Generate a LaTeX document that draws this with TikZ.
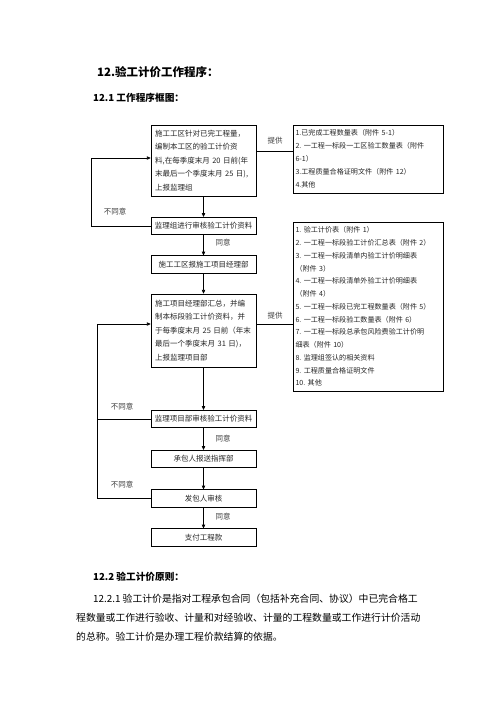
\documentclass[tikz,border=0pt]{standalone}
\usepackage{fontspec}
\setmainfont{Noto Sans CJK SC}
\usetikzlibrary{arrows.meta}

\newcommand{\boxfont}{\fontsize{9}{15.4}\selectfont}
\newcommand{\tagfont}{\fontsize{9}{11}\selectfont}

\tikzset{
  flowbox/.style={draw, line width=0.8pt, minimum width=126pt, minimum height=21pt, inner sep=0pt, font=\boxfont, text=black!85},
  textbox/.style={flowbox, align=left, text width=116pt, inner xsep=5pt, font=\fontsize{9}{16.2}\selectfont},
  listbox/.style={draw, line width=0.8pt, align=left, text width=174pt, inner xsep=3pt, inner ysep=0pt, text=black!85},
  flowarrow/.style={line width=0.8pt, -{Triangle[length=4.5pt,width=4pt]}},
  flowline/.style={line width=0.8pt},
  tag/.style={font=\tagfont, text=black!75, inner sep=0pt},
  heading/.style={anchor=base west, inner sep=0pt, font=\bfseries},
  para/.style={anchor=base west, inner sep=0pt, font=\fontsize{11.8}{22}\selectfont}
}

\begin{document}
\begin{tikzpicture}[x=1.2pt,y=-1.2pt]
  \useasboundingbox (0,0) rectangle (496,702);
  \fill[white] (0,0) rectangle (496,702);

  % Headings
  \node[heading, font=\bfseries\fontsize{13.8}{16}\selectfont] (h1) at (97,76.4) {12.验工计价工作程序：};
  \node[heading, font=\bfseries\fontsize{11.6}{14}\selectfont] (h2) at (93,101.7) {12.1 工作程序框图：};

  % Main column
  \node[textbox, minimum height=85pt] (b1) at (203.5,160.5) {施工工区针对已完工程量，\\编制本工区的验工计价资\\料,在每季度末月 20 日前(年\\末最后一个季度末月 25 日),\\上报监理组};
  \node[flowbox] (b2) at (203.5,226) {监理组进行审核验工计价资料};
  \node[flowbox] (b3) at (203.5,264.5) {施工工区报施工项目经理部};
  \node[textbox, minimum height=87.6pt] (b4) at (203.5,330.5) {施工项目经理部汇总，并编\\制本标段验工计价资料，并\\于每季度末月 25 日前（年末\\最后一个季度末月 31 日)，\\上报监理项目部};
  \node[flowbox] (b5) at (203.5,419) {监理项目部审核验工计价资料};
  \node[flowbox] (b6) at (203.5,459) {承包人报送指挥部};
  \node[flowbox] (b7) at (203.5,498.5) {发包人审核};
  \node[flowbox] (b8) at (203.5,537.5) {支付工程款};

  % Lists of documents
  \node[listbox, minimum height=81.6pt, font=\fontsize{8.5}{15.6}\selectfont] (r1) at (368,159) {1.已完成工程数量表（附件~5-1）\\2.~一工程一标段一工区验工数量表（附件\\6-1）\\3.工程质量合格证明文件（附件~12）\\4.其他};
  \node[listbox, minimum height=202.8pt, font=\fontsize{8.5}{15.3}\selectfont] (r2) at (368,306.5) {1.~验工计价表（附件~1）\\2.~一工程一标段验工计价汇总表（附件~2）\\3.~一工程一标段清单内验工计价明细表\\（附件~3）\\4.~一工程一标段清单外验工计价明细表\\（附件~4）\\5.~一工程一标段已完工程数量表（附件~5）\\6.~一工程一标段验工数量表（附件~6）\\7.~一工程一标段总承包风险费验工计价明\\细表（附件~10）\\8.~监理组签认的相关资料\\9.~工程质量合格证明文件\\10.~其他};

  % Downward arrows
  \draw[flowarrow] (b1) -- (b2);
  \draw[flowarrow] (b2) -- (b3);
  \draw[flowarrow] (b3) -- (b4);
  \draw[flowarrow] (b4) -- (b5);
  \draw[flowarrow] (b5) -- (b6);
  \draw[flowarrow] (b6) -- (b7);
  \draw[flowarrow] (b7) -- (b8);
  \node[tag] (y1) at (223,243) {同意};
  \node[tag] (y2) at (223,439) {同意};
  \node[tag] (y3) at (223,517) {同意};

  % Links to the lists
  \coordinate (g1) at (275,151);
  \coordinate (g2) at (275,324);
  \draw[flowline] (b1.east |- g1) -- (r1.west |- g1);
  \draw[flowline] (b4.east |- g2) -- (r2.west |- g2);
  \node[tag] (t1) at (275,141) {提供};
  \node[tag] (t2) at (275,316) {提供};

  % Return loops
  \coordinate (k1) at (91,158);
  \coordinate (k2) at (97,324);
  \draw[flowarrow] (b2.west) -| (k1) -- (b1.west |- k1);
  \draw[flowarrow] (b5.west) -| (k2) -- (b4.west |- k2);
  \draw[flowline] (b7.west) -| (k2);
  \node[tag] (n1) at (115,212) {不同意};
  \node[tag] (n2) at (122,407) {不同意};
  \node[tag] (n3) at (122,485) {不同意};

  % Principles
  \node[heading, font=\bfseries\fontsize{11.6}{14}\selectfont] (h3) at (93,580.7) {12.2 验工计价原则：};
  \node[para] (p1) at (93,602.7) {12.2.1 验工计价是指对工程承包合同（包括补充合同、协议）中已完合格工};
  \node[para] (p2) at (76,621.7) {程数量或工作进行验收、计量和对经验收、计量的工程数量或工作进行计价活动};
  \node[para] (p3) at (76,640.7) {的总称。验工计价是办理工程价款结算的依据。};
\end{tikzpicture}
\end{document}
